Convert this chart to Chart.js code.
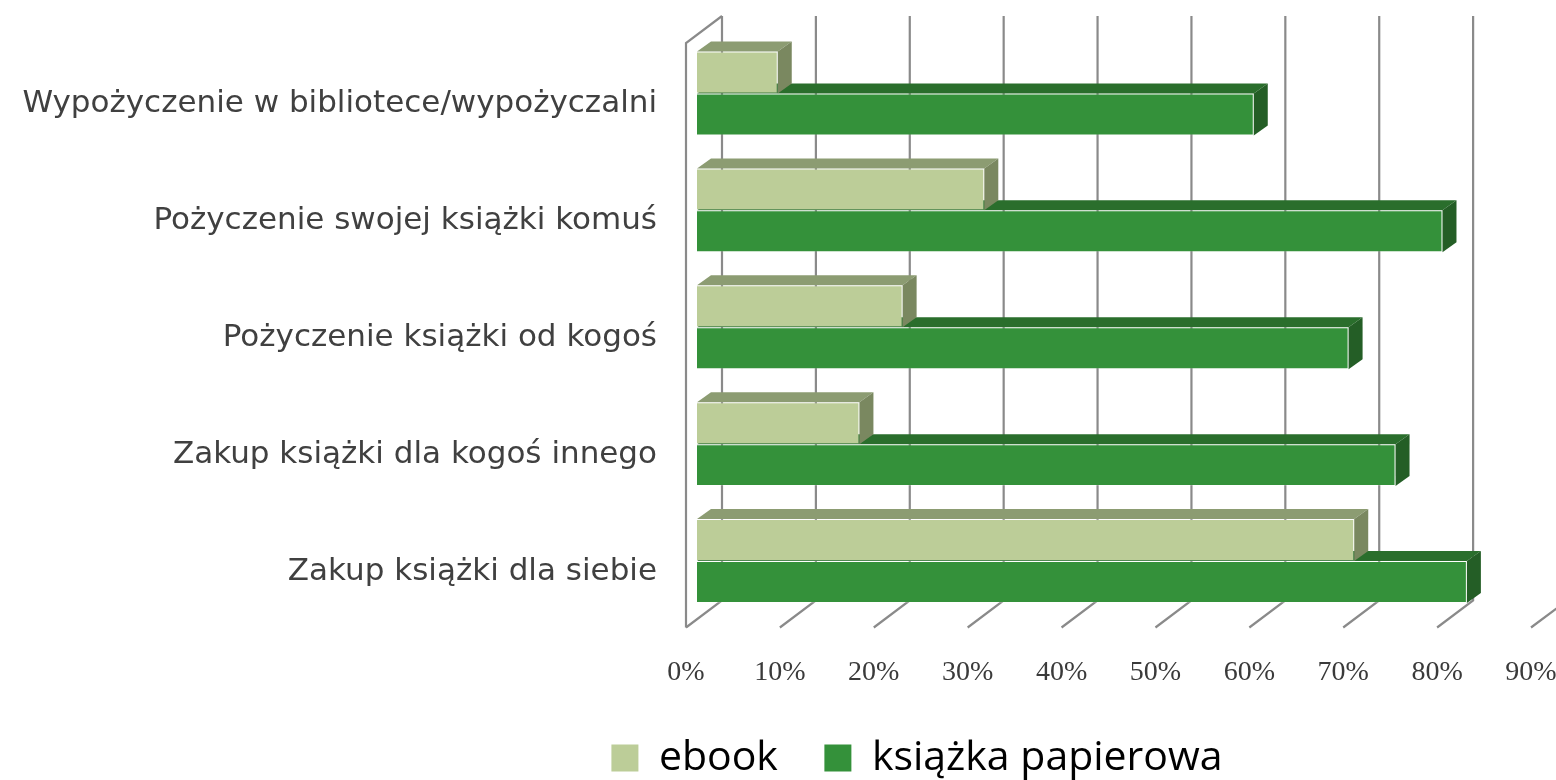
<!DOCTYPE html>
<html><head><meta charset="utf-8">
<script src="https://cdn.jsdelivr.net/npm/chart.js@4.4.1/dist/chart.umd.min.js"></script>
<style>html,body{margin:0;padding:0;background:#fff;overflow:hidden}</style>
</head><body>
<canvas id="c" width="1556" height="780"></canvas>
<script>
const categories = [
  'Wypożyczenie w bibliotece/wypożyczalni',
  'Pożyczenie swojej książki komuś',
  'Pożyczenie książki od kogoś',
  'Zakup książki dla kogoś innego',
  'Zakup książki dla siebie'
];
const ebookValues = [8.6, 30.6, 21.9, 17.3, 70.0];
const paperValues = [59.3, 79.4, 69.4, 74.4, 82.0];
const xTickLabels = ['0%','10%','20%','30%','40%','50%','60%','70%','80%','90%'];
const seriesNames = ['ebook', 'książka papierowa'];

const FRONT = {dx: -11, dy: 8};
const BACK = {dx: 25, dy: -19};
const BAR = {dx: 14, dy: -10};
const faceColors = [
  {top: '#8c9c72', side: '#7a8860'},
  {top: '#2a6e2c', side: '#245e26'}
];

const walls3d = {
  id: 'walls3d',
  afterLayout(chart) {
    const lg = chart.legend;
    if (lg) { lg.left += 146; lg.right += 146; lg.top += 8.5; lg.bottom += 8.5; }
  },
  beforeDatasetsDraw(chart) {
    const {ctx, chartArea: a, scales: {x}} = chart;
    ctx.save();
    ctx.strokeStyle = '#8a8a8a';
    ctx.lineWidth = 2.2;
    ctx.lineJoin = 'miter';
    const x0 = x.getPixelForValue(0);
    ctx.beginPath();
    ctx.moveTo(x0 + FRONT.dx, a.bottom + FRONT.dy);
    ctx.lineTo(x0 + FRONT.dx, a.top + FRONT.dy);
    ctx.lineTo(x0 + BACK.dx, a.top + BACK.dy);
    ctx.stroke();
    x.ticks.forEach(t => {
      const px = x.getPixelForValue(t.value);
      ctx.beginPath();
      ctx.moveTo(px + BACK.dx, a.top + BACK.dy);
      ctx.lineTo(px + BACK.dx, a.bottom + BACK.dy);
      ctx.lineTo(px + FRONT.dx, a.bottom + FRONT.dy);
      ctx.stroke();
    });
    [1, 0].forEach(di => {
      const meta = chart.getDatasetMeta(di);
      meta.data.forEach(el => {
        const p = el.getProps(['x', 'y', 'base', 'height'], true);
        const top = p.y - p.height / 2, bot = p.y + p.height / 2;
        ctx.fillStyle = faceColors[di].top;
        ctx.beginPath();
        ctx.moveTo(p.base, top); ctx.lineTo(p.x, top);
        ctx.lineTo(p.x + BAR.dx, top + BAR.dy); ctx.lineTo(p.base + BAR.dx, top + BAR.dy);
        ctx.closePath(); ctx.fill();
        ctx.fillStyle = faceColors[di].side;
        ctx.beginPath();
        ctx.moveTo(p.x, top); ctx.lineTo(p.x + BAR.dx, top + BAR.dy);
        ctx.lineTo(p.x + BAR.dx, bot + BAR.dy); ctx.lineTo(p.x, bot);
        ctx.closePath(); ctx.fill();
      });
    });
    ctx.restore();
  }
};

new Chart(document.getElementById('c'), {
  type: 'bar',
  data: {
    labels: categories,
    datasets: [
      {label: seriesNames[0], data: ebookValues, backgroundColor: '#bccd98', borderColor: 'rgba(255,255,255,0.18)', borderWidth: 1},
      {label: seriesNames[1], data: paperValues, backgroundColor: '#34913a', borderColor: 'rgba(255,255,255,0.18)', borderWidth: 1}
    ]
  },
  options: {
    indexAxis: 'y',
    responsive: false,
    animation: false,
    events: [],
    categoryPercentage: 0.718,
    barPercentage: 1.0,
    layout: {padding: {top: 35, right: 14, left: 0, bottom: 0}},
    scales: {
      x: {
        min: 0, max: 90,
        grid: {display: false, drawTicks: false},
        border: {display: false},
        ticks: {
          stepSize: 10,
          callback: (v, i) => xTickLabels[i],
          font: {family: 'Liberation Serif', size: 28},
          color: '#3a3a3a',
          padding: 36,
          labelOffset: -11,
          maxRotation: 0,
          autoSkip: false
        },
        afterFit(s) { s.height = 63; s.paddingLeft = 0; s.paddingRight = 0; }
      },
      y: {
        grid: {display: false, drawTicks: false},
        border: {display: false},
        ticks: {
          font: {family: 'DejaVu Sans', size: 31},
          color: '#404040',
          padding: 40,
          labelOffset: 11,
          autoSkip: false
        },
        afterFit(s) { s.width = 697; s.paddingTop = 0; s.paddingBottom = 0; }
      }
    },
    plugins: {
      legend: {
        position: 'bottom',
        labels: {
          font: {family: 'Open Sans', size: 41},
          color: '#000',
          boxWidth: 27,
          boxHeight: 27,
          padding: 46.5,
          generateLabels(chart) {
            const items = Chart.defaults.plugins.legend.labels.generateLabels(chart);
            items.forEach(it => { it.lineWidth = 0; it.strokeStyle = 'rgba(0,0,0,0)'; });
            return items;
          }
        }
      },
      tooltip: {enabled: false}
    }
  },
  plugins: [walls3d]
});
</script>
</body></html>
